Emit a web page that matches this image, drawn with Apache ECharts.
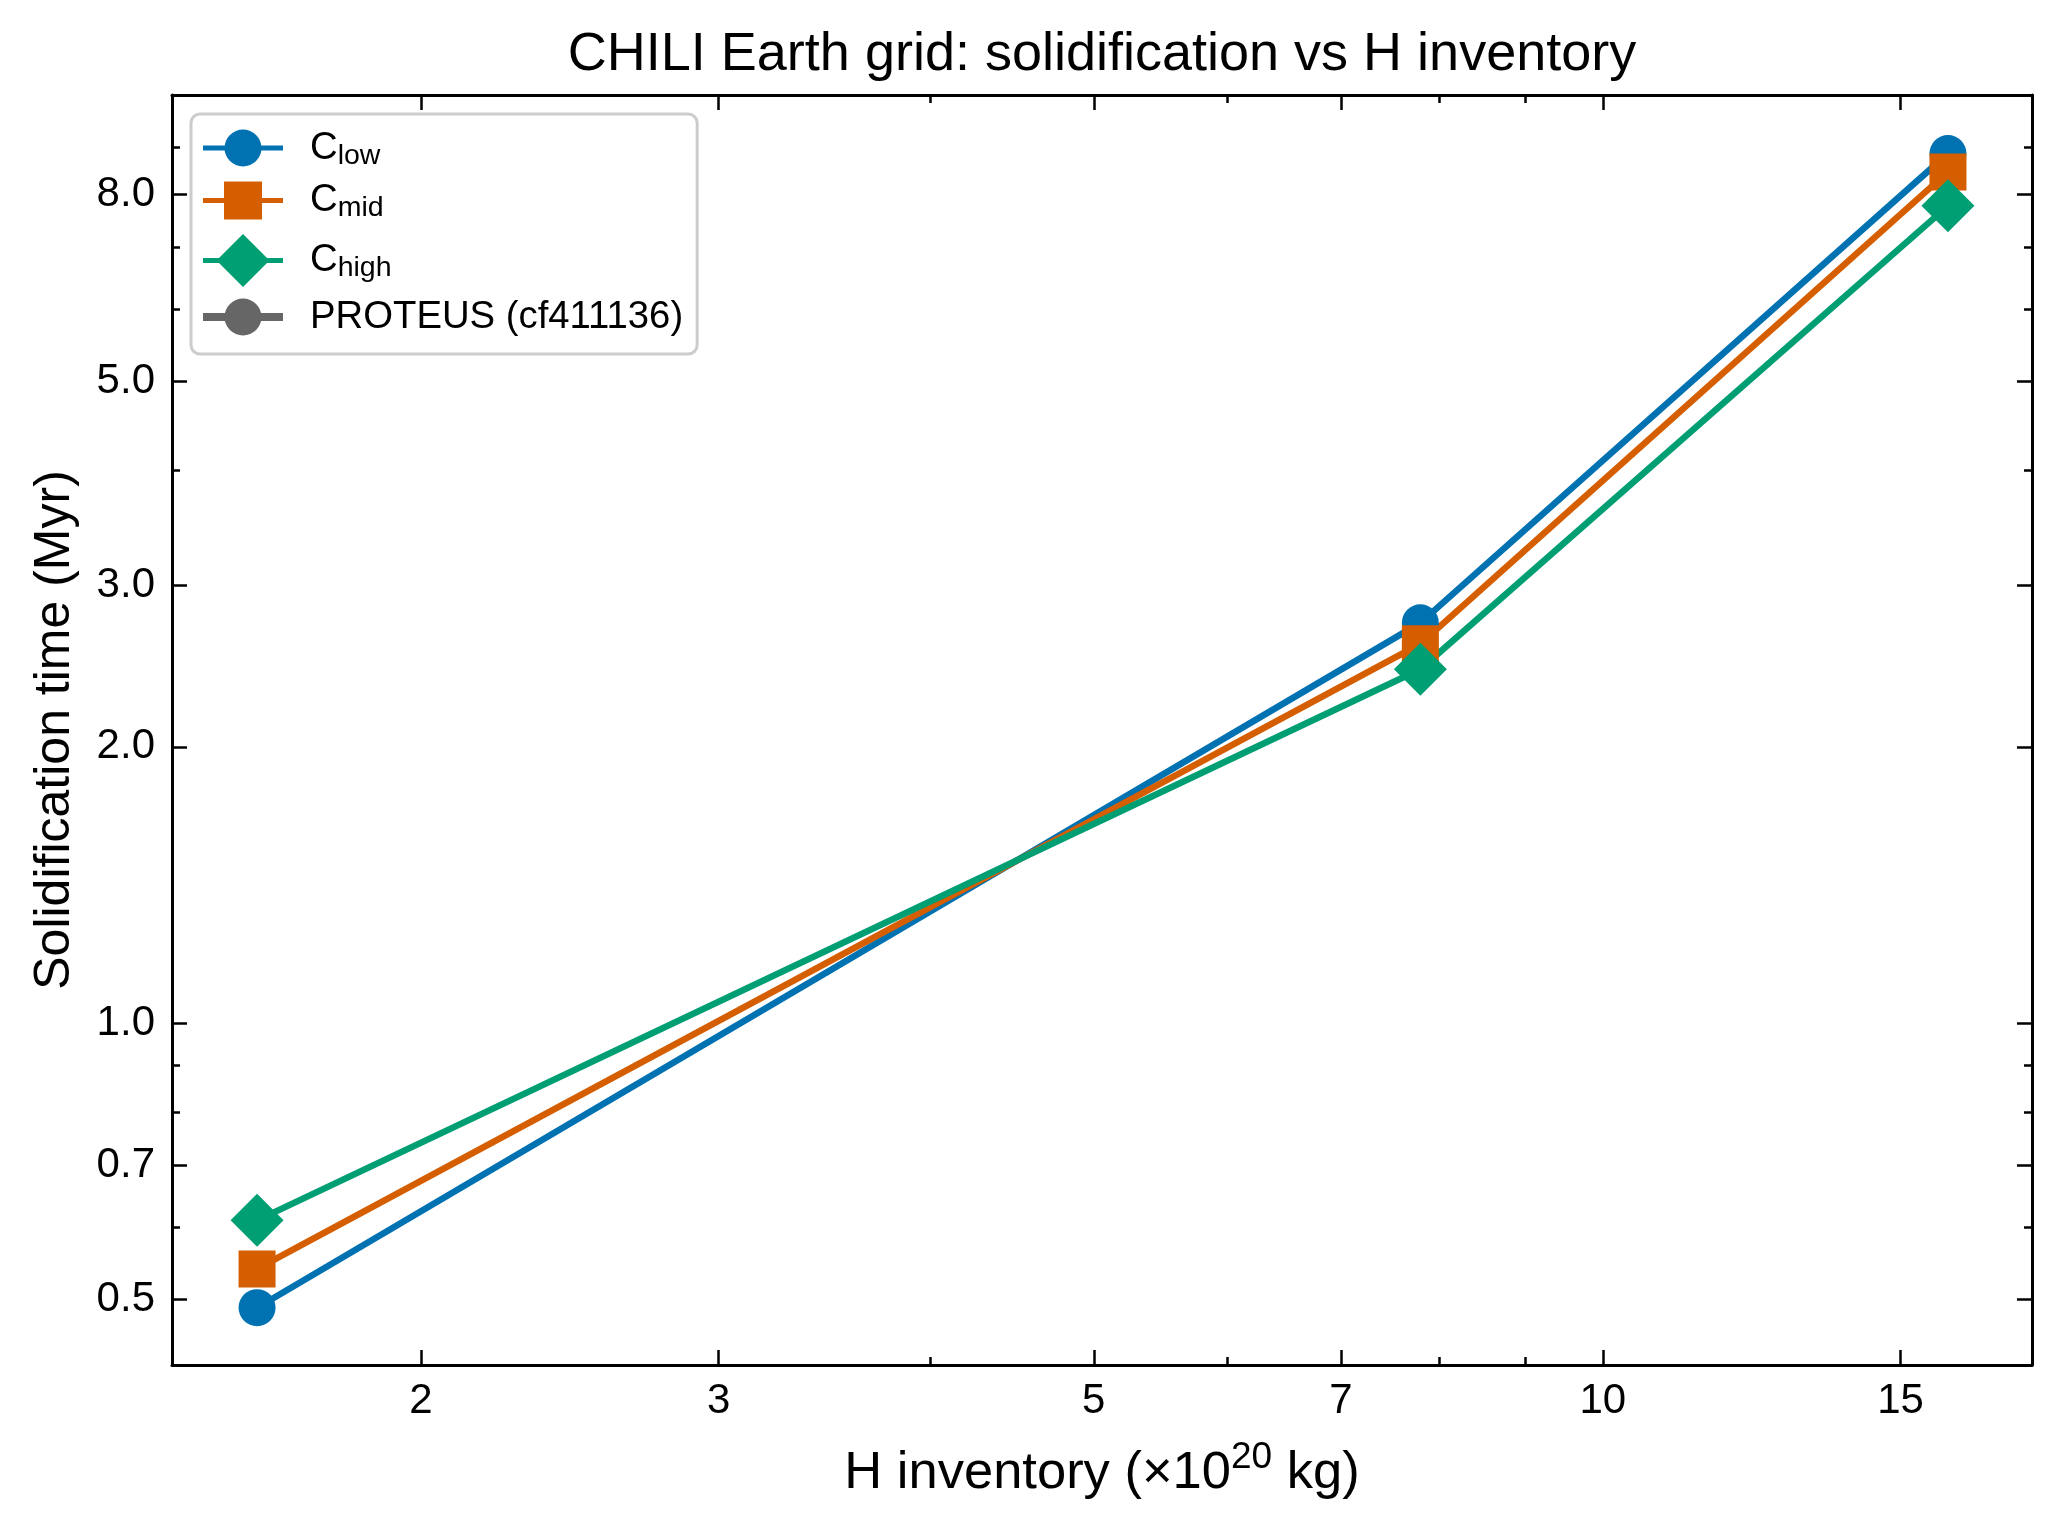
<!DOCTYPE html>
<html>
<head>
<meta charset="utf-8">
<title>CHILI Earth grid: solidification vs H inventory</title>
<script src="https://cdn.jsdelivr.net/npm/echarts@6/dist/echarts.min.js"></script>
<style>
  html, body { margin: 0; padding: 0; background: #fff; }
  #chart { width: 2062px; height: 1529px; }
</style>
</head>
<body>
<div id="chart"></div>
<script>
// H inventory (x 10^20 kg) of the grid points
const hInventory = [1.6, 7.8, 16.0];
// solidification time (Myr) per carbon case
const cLow = [0.49, 2.73, 8.86];
const cMid = [0.54, 2.59, 8.46];
const cHigh = [0.61, 2.43, 7.77];
const proteus = [];

const xMajorTicks = [2, 3, 5, 7, 10, 15];
const xMinorTicks = [4, 6, 8, 9];
const yMajorTicks = [0.5, 0.7, 1, 2, 3, 5, 8];
const yMinorTicks = [0.6, 0.8, 0.9, 4, 6, 7, 9];

const FONT = '"Liberation Sans", Arial, Helvetica, sans-serif';
const xRange = { min: 1.425, max: 17.94 };
const yRange = { min: 0.4244, max: 10.26 };

const BLUE = '#0072B2';
const ORANGE = '#D55E00';
const GREEN = '#009E73';
const GREY = '#666666';

// legend handles: line + marker, drawn as one path each
const ICON_CIRCLE = 'path://M0,16L22,16L22,21L0,21Z M58,16L80,16L80,21L58,21Z M21.5,18.5A18.5,18.5,0,1,1,58.5,18.5A18.5,18.5,0,1,1,21.5,18.5Z';
const ICON_SQUARE = 'path://M0,16.5L21,16.5L21,21.5L0,21.5Z M59,16.5L80,16.5L80,21.5L59,21.5Z M21,0L59,0L59,38L21,38Z';
const ICON_DIAMOND = 'path://M0,24L17,24L17,29L0,29Z M63,24L80,24L80,29L63,29Z M40,0L66.5,26.5L40,53L13.5,26.5Z';
const ICON_PROTEUS = 'path://M0,14.5L23,14.5L23,22.5L0,22.5Z M57,14.5L80,14.5L80,22.5L57,22.5Z M21.5,18.5A18.5,18.5,0,1,1,58.5,18.5A18.5,18.5,0,1,1,21.5,18.5Z';

const legendText = {
  'C_low': '{g| }{c|C}{s|low}',
  'C_mid': '{g| }{c|C}{s|mid}',
  'C_high': '{g| }{c|C}{s|high}',
  'PROTEUS (cf411136)': '{g| }{c|PROTEUS (cf411136)}'
};

function logAxis(range, position, ticks, tickLen, showLine, label) {
  return {
    type: 'log',
    logBase: 10,
    position: position,
    min: range.min,
    max: range.max,
    axisLine: { show: showLine, onZero: false, lineStyle: { color: '#000', width: 3 } },
    axisTick: {
      show: true, inside: true, length: tickLen, customValues: ticks,
      lineStyle: { color: '#000', width: 2.5 }
    },
    minorTick: { show: false },
    splitLine: { show: false },
    axisLabel: label ? Object.assign({ customValues: ticks }, label) : { show: false }
  };
}

function lineSeries(name, values, color, symbol, size) {
  return {
    name: name,
    type: 'line',
    data: hInventory.map((x, i) => [x, values[i]]),
    symbol: symbol,
    symbolSize: size,
    showSymbol: true,
    lineStyle: { color: color, width: 6.5, join: 'round' },
    itemStyle: { color: color, borderWidth: 0 },
    emphasis: { disabled: true },
    animation: false
  };
}

const chart = echarts.init(document.getElementById('chart'), null, { renderer: 'canvas' });

const xMain = logAxis(xRange, 'bottom', xMajorTicks, 15, true, {
  show: true, margin: 15, color: '#000', fontSize: 42, fontFamily: FONT,
  formatter: v => String(Math.round(v))
});
xMain.name = '{t|H inventory (×10}{sup|20}{t| kg)}';
xMain.nameLocation = 'middle';
xMain.nameGap = 74;
xMain.nameTextStyle = {
  color: '#000',
  rich: {
    t: { fontSize: 52.5, lineHeight: 70, fontFamily: FONT, color: '#000' },
    sup: { fontSize: 37, lineHeight: 37, verticalAlign: 'top', fontFamily: FONT, color: '#000' }
  }
};

const yMain = logAxis(yRange, 'left', yMajorTicks, 15, true, {
  show: true, margin: 17, color: '#000', fontSize: 42, fontFamily: FONT,
  formatter: v => Number(v).toFixed(1)
});
yMain.name = 'Solidification time (Myr)';
yMain.nameLocation = 'middle';
yMain.nameGap = 92;
yMain.nameTextStyle = { color: '#000', fontSize: 50, fontFamily: FONT };

const option = {
  backgroundColor: '#fff',
  animation: false,
  title: {
    text: 'CHILI Earth grid: solidification vs H inventory',
    left: 1102,
    top: 28,
    textAlign: 'center',
    padding: 0,
    textStyle: { color: '#000', fontSize: 54, fontWeight: 'normal', fontFamily: FONT }
  },
  grid: { left: 172, right: 30, top: 95, bottom: 164, containLabel: false, outerBoundsMode: 'none' },
  legend: {
    orient: 'vertical',
    left: 191,
    top: 114,
    padding: [15, 14, 18, 12],
    itemGap: 11,
    itemWidth: 80,
    itemHeight: 54,
    symbolKeepAspect: true,
    selectedMode: false,
    backgroundColor: '#fff',
    borderColor: '#cccccc',
    borderWidth: 3,
    borderRadius: 9,
    itemStyle: { borderWidth: 0 },
    data: [
      { name: 'C_low', icon: ICON_CIRCLE },
      { name: 'C_mid', icon: ICON_SQUARE },
      { name: 'C_high', icon: ICON_DIAMOND },
      { name: 'PROTEUS (cf411136)', icon: ICON_PROTEUS }
    ],
    formatter: name => legendText[name],
    textStyle: {
      color: '#000',
      fontFamily: FONT,
      fontSize: 38.3,
      rich: {
        g: { width: 22, fontSize: 10, lineHeight: 10 },
        c: { fontSize: 38.3, lineHeight: 45, fontFamily: FONT, color: '#000' },
        s: { fontSize: 28.5, lineHeight: 28.5, verticalAlign: 'bottom', fontFamily: FONT, color: '#000' }
      }
    }
  },
  xAxis: [
    xMain,
    logAxis(xRange, 'bottom', xMinorTicks, 8, false, null),
    logAxis(xRange, 'top', xMajorTicks, 15, true, null),
    logAxis(xRange, 'top', xMinorTicks, 8, false, null)
  ],
  yAxis: [
    yMain,
    logAxis(yRange, 'left', yMinorTicks, 8, false, null),
    logAxis(yRange, 'right', yMajorTicks, 15, true, null),
    logAxis(yRange, 'right', yMinorTicks, 8, false, null)
  ],
  series: [
    lineSeries('C_low', cLow, BLUE, 'circle', 37),
    lineSeries('C_mid', cMid, ORANGE, 'rect', 37),
    lineSeries('C_high', cHigh, GREEN, 'diamond', 53),
    {
      name: 'PROTEUS (cf411136)',
      type: 'line',
      data: proteus,
      symbol: 'circle',
      symbolSize: 37,
      lineStyle: { color: GREY, width: 8 },
      itemStyle: { color: GREY, borderWidth: 0 },
      animation: false
    }
  ]
};

chart.setOption(option);
window.addEventListener('resize', () => chart.resize());
</script>
</body>
</html>
